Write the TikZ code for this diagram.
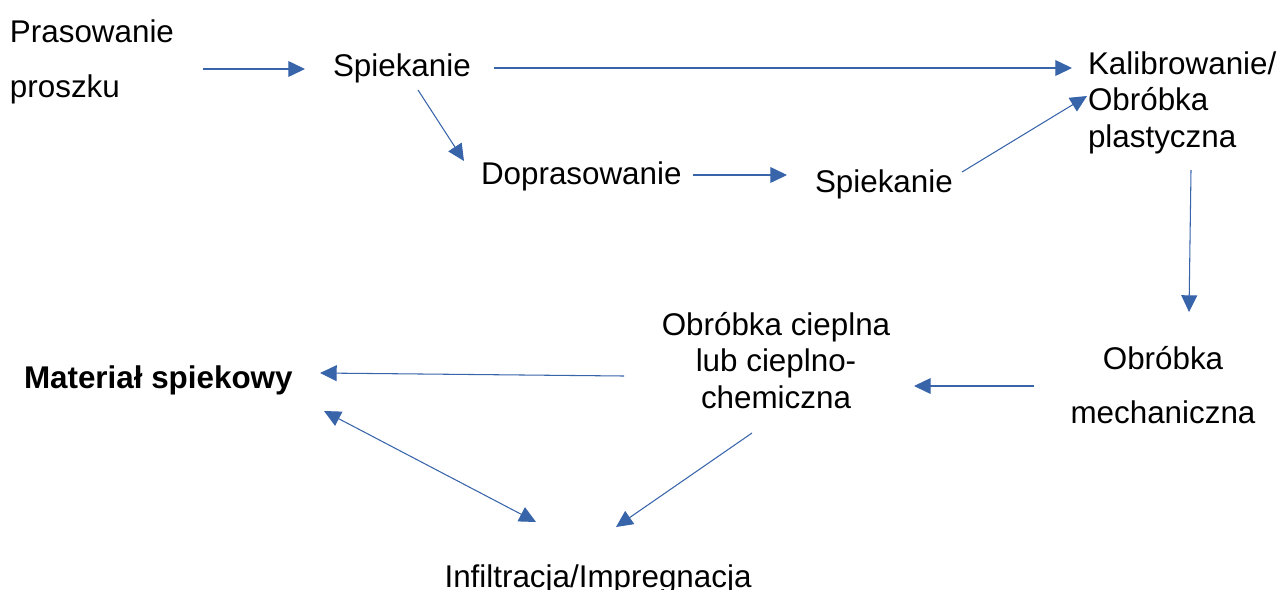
\documentclass[tikz,border=0pt]{standalone}
\usepackage{fontspec}
\setmainfont{Liberation Sans}
\usetikzlibrary{arrows.meta}
\definecolor{arr}{RGB}{56,100,170}
\newcommand\fsz[1]{\fontsize{17.86}{#1}\selectfont}
\begin{document}
\begin{tikzpicture}[x=0.02cm,y=-0.02cm,
  lbl/.style={inner sep=0pt,outer sep=0pt,font=\fsz{20.5pt}},
  con/.style={draw=arr,line width=0.6pt,-{Triangle[length=9.5pt,width=9pt]}},
  dcon/.style={draw=arr,line width=0.6pt,{Triangle[length=9.5pt,width=9pt]}-{Triangle[length=9.5pt,width=9pt]}}]
\useasboundingbox (0,0) rectangle (1284,589);
% nodes (base anchor = baseline of the last line)
\node[lbl,anchor=base west,align=left,font=\fsz{31.2pt}] (pras) at (10,97) {Prasowanie\\proszku};
\node[lbl,anchor=base west] (spiek1) at (333,76) {Spiekanie};
\node[lbl,anchor=base west,align=left] (kal) at (1088,147) {Kalibrowanie/\\Obróbka\\plastyczna};
\node[lbl,anchor=base west] (dopr) at (481,184) {Doprasowanie};
\node[lbl,anchor=base west] (spiek2) at (815,192) {Spiekanie};
\node[lbl,anchor=base,align=center,font=\fsz{30.6pt}] (mech) at (1163,423) {Obróbka\\mechaniczna};
\node[lbl,anchor=base,align=center] (ciep) at (776,408) {Obróbka cieplna\\lub cieplno-\\chemiczna};
\node[lbl,anchor=base west,font=\fsz{20.5pt}\bfseries] (mat) at (24,388) {Materiał spiekowy};
\node[lbl,anchor=base] (inf) at (598,587) {Infiltracja/Impregnacja};
% connector end points
\coordinate (prasE) at (203,69);
\coordinate (spiek1W) at (305,69);
\coordinate (spiek1E) at (494,68);
\coordinate (kalW) at (1072,68);
\coordinate (spiek1S) at (418,90);
\coordinate (doprN) at (464,161);
\coordinate (doprE) at (693,175);
\coordinate (spiek2W) at (787,175);
\coordinate (spiek2E) at (962,172);
\coordinate (kalSW) at (1087,96);
\coordinate (kalS) at (1191,170);
\coordinate (mechN) at (1189,312);
\coordinate (mechW) at (1034,386);
\coordinate (ciepE) at (914,386);
\coordinate (ciepW) at (624,376);
\coordinate (matE) at (320,373);
\coordinate (matSE) at (324,411);
\coordinate (infNW) at (536,522);
\coordinate (ciepS) at (752,433);
\coordinate (infNE) at (616,527);
% connectors
\draw[con] (prasE) -- (spiek1W);
\draw[con] (spiek1E) -- (kalW);
\draw[con] (spiek1S) -- (doprN);
\draw[con] (doprE) -- (spiek2W);
\draw[con] (spiek2E) -- (kalSW);
\draw[con] (kalS) -- (mechN);
\draw[con] (mechW) -- (ciepE);
\draw[con] (ciepW) -- (matE);
\draw[dcon] (matSE) -- (infNW);
\draw[con] (ciepS) -- (infNE);
\end{tikzpicture}
\end{document}
